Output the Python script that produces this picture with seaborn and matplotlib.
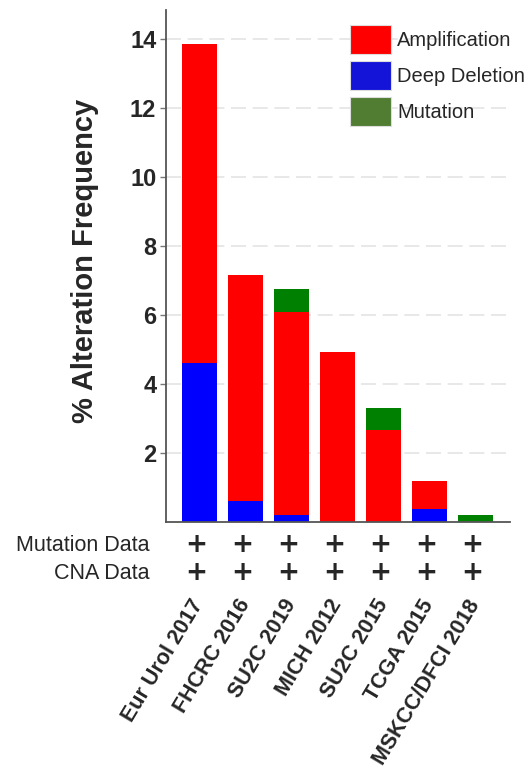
import matplotlib
matplotlib.use("Agg")
import matplotlib.pyplot as plt
from matplotlib.patches import Patch
import numpy as np
import pandas as pd
import seaborn as sns

# values (% of cases)
studies = ["Eur Urol 2017", "FHCRC 2016", "SU2C 2019", "MICH 2012",
           "SU2C 2015", "TCGA 2015", "MSKCC/DFCI 2018"]
deep_deletion = [4.60, 0.62, 0.21, 0.00, 0.00, 0.38, 0.00]
amplification = [9.25, 6.53, 5.87, 4.92, 2.68, 0.82, 0.00]
mutation = [0.00, 0.00, 0.69, 0.00, 0.64, 0.00, 0.19]
mutation_data = ["+", "+", "+", "+", "+", "+", "+"]
cna_data = ["+", "+", "+", "+", "+", "+", "+"]

bar_colors = {"Amplification": "#ff0000", "Deep Deletion": "#0000ff", "Mutation": "#008000"}
legend_colors = {"Amplification": "#ff0000", "Deep Deletion": "#1414d8", "Mutation": "#507d32"}

sns.set_style("ticks")
plt.rcParams["font.family"] = ["Liberation Sans", "DejaVu Sans"]

df = pd.DataFrame({
    "study": studies,
    "deep": deep_deletion,
    "amp": amplification,
    "mut": mutation,
})
# layered totals so the stacks can be drawn back-to-front
df["deep_amp"] = df["deep"] + df["amp"]
df["total"] = df["deep_amp"] + df["mut"]

fig = plt.figure(figsize=(5.28, 7.76), dpi=100)
ax = fig.add_axes([166 / 528, 254 / 776, 344 / 528, 512 / 776])

ax.yaxis.grid(True, color="#e4e4e4", linestyle=(0, (9, 4)), linewidth=1.2, zorder=0)
ax.set_axisbelow(True)

for col, name in [("total", "Mutation"), ("deep_amp", "Amplification"), ("deep", "Deep Deletion")]:
    sns.barplot(data=df, x="study", y=col, order=studies, color=bar_colors[name],
                saturation=1, width=0.76, linewidth=0, ax=ax, zorder=2)

ax.set_xlim(-0.72, 6.75)
ax.set_ylim(0, 14.85)
ax.set_yticks([2, 4, 6, 8, 10, 12, 14])
ax.tick_params(axis="y", labelsize=17, length=4, width=1, color="#777777", pad=3)
for lbl in ax.get_yticklabels():
    lbl.set_fontweight("bold")

ax.set_xlabel("")
ax.set_ylabel("% Alteration Frequency", fontsize=21, fontweight="bold")
ax.yaxis.set_label_coords(-0.195, 0.51)

ax.set_xticks(range(len(studies)))
ax.set_xticklabels(studies, rotation=59, ha="right", va="center",
                   rotation_mode="anchor", fontsize=15.5, fontweight="bold")
ax.tick_params(axis="x", length=0, pad=57)

for side in ["top", "right"]:
    ax.spines[side].set_visible(False)
for side in ["left", "bottom"]:
    ax.spines[side].set_color("#555555")
    ax.spines[side].set_linewidth(1.3)

# data availability rows under the axis
trans = ax.get_xaxis_transform()
for row_y, row_label, marks in [(-0.045, "Mutation Data", mutation_data),
                                (-0.100, "CNA Data", cna_data)]:
    ax.text(-1.07, row_y, row_label, transform=trans, ha="right", va="center",
            fontsize=15.5, clip_on=False)
    for i, m in enumerate(marks):
        ax.text(i - 0.06, row_y, m, transform=trans, ha="center", va="center",
                fontsize=19, fontweight="heavy", family="DejaVu Sans", clip_on=False)

handles = [Patch(facecolor=legend_colors[n], edgecolor="#dddddd", linewidth=0.8, label=n)
           for n in ["Amplification", "Deep Deletion", "Mutation"]]
fig.legend(handles=handles, loc="upper left", bbox_to_anchor=(350 / 528, 1 - 25 / 776),
           bbox_transform=fig.transFigure, frameon=False, fontsize=14.5,
           handlelength=2.05, handleheight=1.85, labelspacing=0.33,
           handletextpad=0.3, borderpad=0, borderaxespad=0)

fig.savefig("out.png", dpi=100)
